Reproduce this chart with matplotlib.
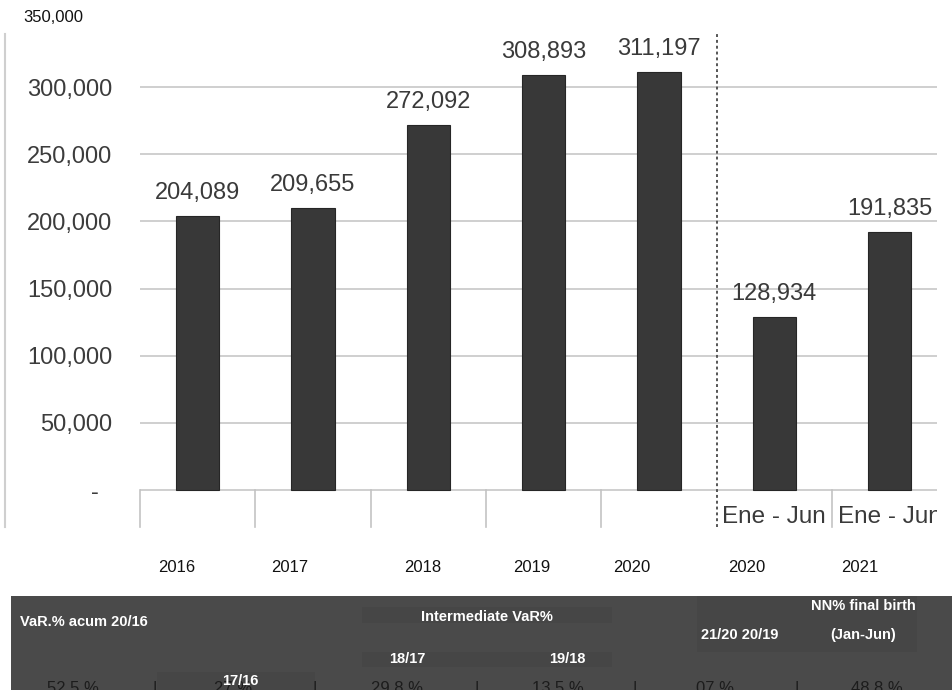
import matplotlib.pyplot as plt
from matplotlib.patches import Rectangle
from matplotlib.ticker import FuncFormatter

plt.rcParams['font.family'] = ['Liberation Sans', 'DejaVu Sans']

W, H = 953, 690

# births per period (full years, then Jan-Jun)
periods = ['2016', '2017', '2018', '2019', '2020', 'Ene-Jun 2020', 'Ene-Jun 2021']
births = [204089, 209655, 272092, 308893, 311197, 128934, 191835]
year_labels = ['2016', '2017', '2018', '2019', '2020', '2020', '2021']
half_year_tag = 'Ene - Jun'
y_ticks = [0, 50000, 100000, 150000, 200000, 250000, 300000]
top_label = '350,000'

# variation table under the chart
value_row = ['52.5 %', '27 %', '29.8 %', '13.5 %', '07 %', '48.8 %']
header_texts = ['VaR.% acum 20/16', 'Intermediate VaR%', '18/17', '19/18',
                '17/16', '21/20 20/19', 'NN% final birth', '(Jan-Jun)']


def fx(x):
    return x / W


def fy(y):
    return 1 - y / H


fig = plt.figure(figsize=(W / 100, H / 100), dpi=100)
ax = fig.add_axes([fx(140), fy(527), fx(937 - 140), (527 - 34) / H])

xs = range(len(births))
ax.bar(xs, births, width=0.375, color='#383838', edgecolor='#262626', linewidth=0.8, zorder=3)

for i, v in enumerate(births):
    ax.annotate(f'{v:,}', (i, v), xytext=(0, 17), textcoords='offset pixels',
                ha='center', va='baseline', fontsize=17, color='#3a3a3a')

ax.set_xlim(-0.5, 6.41)
ax.set_ylim(-27500, 339500)
ax.set_yticks(y_ticks)
ax.yaxis.set_major_formatter(FuncFormatter(lambda v, p: '-  ' if v == 0 else f'{v:,.0f}'))
ax.tick_params(axis='y', length=0, pad=20, labelsize=17, labelcolor='#3c3c3c')
ax.set_xticks([])
ax.grid(axis='y', color='#c2c2c2', linewidth=1.1, zorder=0)
for s in ax.spines.values():
    s.set_visible(False)

# category separators below the baseline
for i in range(len(births)):
    if i == 5:
        continue
    ax.plot([i - 0.5, i - 0.5], [0, -27500], color='#c4c4c4', lw=1.2, clip_on=False, zorder=1)
ax.axvline(4.5, color='#555555', lw=1.4, ls=(0, (1.5, 1.5)), zorder=2)

for i in (5, 6):
    ax.text(i, -20000, half_year_tag, ha='center', va='center', fontsize=17.5,
            color='#3a3a3a', clip_on=True)

# left border of the chart frame
fig.add_artist(plt.Line2D([fx(5), fx(5)], [fy(34), fy(527)], color='#cfcfcf', lw=1.5))

fig.text(fx(23), fy(18), top_label, ha='left', va='center', fontsize=12, color='#111111')

year_x = [177, 290, 423, 532, 632, 747, 860]
for x, lab in zip(year_x, year_labels):
    fig.text(fx(x), fy(568), lab, ha='center', va='center', fontsize=12, color='#111111')

# table background and header boxes
fig.add_artist(Rectangle((fx(11), 0), 1 - fx(11), fy(596), color='#4a4a4a', lw=0))
for x0, y0, x1, y1 in [(362, 607, 612, 623), (362, 652, 612, 667),
                       (157, 672, 315, 690), (697, 596, 917, 652)]:
    fig.add_artist(Rectangle((fx(x0), fy(y1)), fx(x1 - x0), (y1 - y0) / H,
                             color='#464646', lw=0))

header_pos = [(20, 622, 'left'), (487, 617, 'center'), (407, 659, 'center'),
              (567, 659, 'center'), (240, 681, 'center'), (740, 635, 'center'),
              (863, 606, 'center'), (863, 635, 'center')]

value_x = [73, 233, 397, 558, 715, 877]
sep_x = [155, 315, 477, 635, 797]
for x, v in zip(value_x, value_row):
    fig.text(fx(x), fy(681), v, ha='center', va='top', fontsize=12, color='#1c1c1c')
for x in sep_x:
    fig.text(fx(x), fy(681), '|', ha='center', va='top', fontsize=12, color='#1c1c1c')

for (x, y, ha), t in zip(header_pos, header_texts):
    fig.text(fx(x), fy(y), t, ha=ha, va='center', fontsize=10.5,
             fontweight='bold', color='white')

fig.savefig('out.png', dpi=100)
